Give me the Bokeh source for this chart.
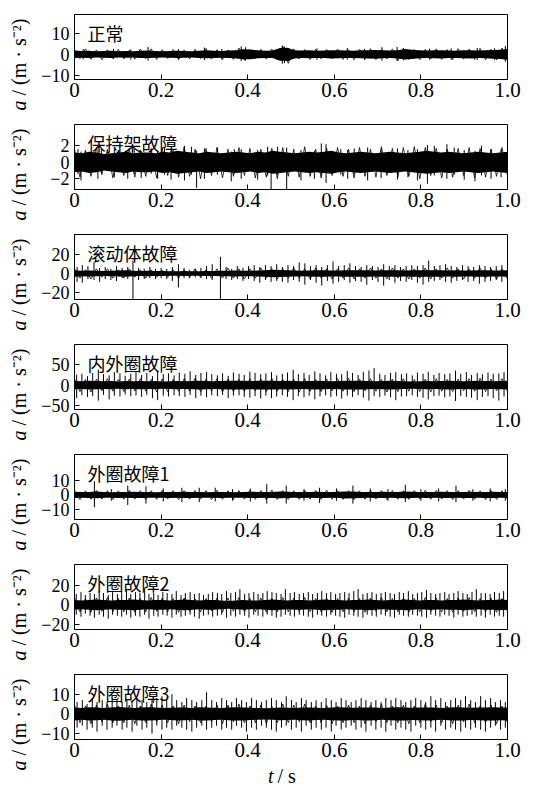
import numpy as np
from bokeh.plotting import figure
from bokeh.layouts import column, row
from bokeh.models import FixedTicker, CustomJSTickFormatter, Label, Range1d
from bokeh.embed import file_html
from bokeh.resources import INLINE

# ---------------- data ----------------
names = ["正常", "保持架故障", "滚动体故障", "内外圈故障", "外圈故障1", "外圈故障2", "外圈故障3"]
y_ranges = [(-12, 19), (-3.3, 4.6), (-28, 42), (-60, 100), (-17, 28), (-25, 41), (-13, 20)]
y_ticks = [[-10, 0, 10], [-2, 0, 2], [-20, 0, 20], [-50, 0, 50], [-10, 0, 10], [-20, 0, 20], [-10, 0, 10]]
x_ticks = [0, 0.2, 0.4, 0.6, 0.8, 1.0]
y_title_var, y_title_rest = "a", "/ (m · s⁻²)"
x_title_var, x_title_rest = "t", "/ s"

# half-width of the dense signal band (m/s^2), 60 samples over 0..1 s
core1 = [1.8,1.6,1.7,1.5,1.6,1.7,1.5,1.6,1.5,1.7, 1.8,1.6,1.5,1.6,1.7,1.6,1.5,1.7,1.9,1.7,
         1.6,1.8,2.0,2.4,2.3,1.9,1.7,1.8,3.0,3.2, 2.0,1.8,1.9,1.7,1.8,2.0,1.9,1.8,1.7,1.9,
         2.0,2.1,1.9,1.8,2.0,2.5,2.2,1.9,1.8,1.9, 2.0,1.8,1.7,1.9,2.0,1.8,1.9,2.1,2.2,2.6]
core2 = [1.2,1.1,1.3,1.2,1.0,1.1,1.2,1.3,1.1,1.2, 1.2,1.1,1.3,1.2,1.4,1.3,1.2,1.1,1.3,1.2,
         1.1,1.2,1.3,1.2,1.1,1.3,1.2,1.4,1.3,1.2, 1.1,1.2,1.3,1.2,1.3,1.4,1.2,1.1,1.2,1.3,
         1.2,1.1,1.2,1.3,1.2,1.1,1.2,1.3,1.4,1.3, 1.2,1.3,1.2,1.1,1.2,1.3,1.2,1.1,1.2,1.3]
core3 = [3.5,3.0,3.2,3.0,2.8,3.0,3.2,3.4,3.0,2.8, 3.0,2.8,2.6,2.5,2.4,2.6,2.5,2.4,2.6,2.8,
         3.0,3.0,3.2,3.0,3.0,3.2,3.4,4.0,3.8,3.4, 3.2,3.0,3.2,3.4,3.6,3.3,3.2,3.4,3.6,3.5,
         3.4,3.3,3.5,3.6,3.4,3.2,3.4,3.6,3.5,3.6, 3.4,3.3,3.4,3.2,3.3,3.5,3.4,3.2,3.3,3.6]
core4 = [10,9.5,10.5,10,9.5,10,9,10,9.5,10, 9.5,10,9,9.5,10,9.5,10,10.5,10,9.5,
         10,10.5,11,10.5,10,10.5,11,10.5,10,10.5, 10,9.5,10,10.5,10,9.5,10,10.5,11,10.5,
         10,9.5,10,10.5,10,9.5,9,9.5,10,9.5, 10,10.5,10,9.5,10,10.5,10,9.5,10,10.5]
core5 = [2.2,2.0,2.1,2.3,2.0,1.9,2.1,2.0,2.2,2.1, 2.0,1.9,2.0,2.1,2.0,2.2,2.1,2.0,1.9,2.0,
         2.1,2.0,1.9,2.0,2.2,2.1,2.0,2.1,2.3,2.2, 2.0,2.1,2.0,2.2,2.1,2.0,2.2,2.4,2.3,2.1,
         2.0,2.1,2.2,2.0,2.1,2.3,2.2,2.0,2.1,2.0, 2.2,2.1,2.0,2.1,2.2,2.0,2.1,2.2,2.0,2.1]
core6 = [5,4.5,5,5.5,5,4.5,5,5,5.5,5, 4.5,5,5,4.5,5,5.5,5,4.5,5,5,
         4.5,4,4.5,5,4.5,4.5,5,5.5,5,4.5, 5,5,4.5,5,5.5,5,5,4.5,5,5,
         5.5,5,4.5,5,5,5.5,5,4.5,5,5, 4.5,5,5,5.5,5,4.5,5,5,5.5,5]
core7 = [3.3,3.0,3.4,3.2,3.0,3.3,3.5,3.2,3.0,3.3, 3.4,3.2,3.0,3.1,3.3,3.2,3.0,3.4,3.3,3.1,
         3.0,3.2,3.4,3.3,3.1,3.0,2.9,3.0,3.2,3.1, 3.0,3.2,3.3,3.1,3.0,3.2,3.4,3.3,3.1,3.2,
         3.3,3.2,3.0,3.2,3.4,3.3,3.1,3.2,3.3,3.2, 3.0,3.2,3.4,3.3,3.1,3.2,3.3,3.4,3.2,3.3]

# coarse oscillation of the signal around the band (80 samples over 0..1 s)
hair1 = [2.3,-2.0,2.6,-2.4,2.1,-2.5,2.2,-2.0,2.4,-2.2, 2.0,-2.3,2.5,-2.1,2.6,-2.4,2.2,-2.0,2.3,-2.5,
         2.1,-2.2,2.4,-2.0,2.8,-2.3,2.2,-2.5,2.1,-2.4, 3.0,-2.8,2.2,-2.1,2.4,-2.3,2.5,-2.6,4.0,-4.3,
         2.6,-2.2,2.3,-2.5,2.4,-2.2,2.3,-2.1,2.5,-2.4, 2.2,-2.6,2.4,-2.3,2.7,-2.5,2.3,-2.2,2.6,-3.0,
         2.9,-2.4,2.3,-2.5,2.4,-2.2,2.6,-2.4,2.3,-2.5, 2.7,-2.3,2.5,-2.4,2.8,-2.6,2.4,-2.7,3.0,-2.8]
hair2 = [1.6,-1.8,1.5,-1.7,1.8,-1.5,1.6,-1.9,1.5,-1.6, 1.7,-1.8,1.5,-1.7,1.6,-1.9,1.8,-1.6,1.5,-1.8,
         1.9,-1.7,1.6,-2.0,1.7,-1.6,1.8,-1.9,1.6,-1.7, 1.8,-1.6,1.7,-1.9,1.6,-1.8,1.7,-2.0,1.8,-1.7,
         1.6,-1.8,1.9,-1.7,1.6,-1.9,1.7,-1.6,1.8,-1.7, 1.6,-1.9,1.8,-1.7,1.6,-1.8,1.9,-1.6,1.7,-1.8,
         1.8,-1.7,1.9,-2.0,1.8,-1.6,1.7,-1.9,1.6,-1.8, 1.7,-1.6,1.8,-1.9,1.7,-1.8,1.6,-1.7,1.8,-1.6]
hair3 = [5,-5,4,-6,5,-4,5,-5,4,-5, 5,-4,4,-5,4,-4,3.5,-4,4,-5, 4,-4,5,-4,4,-5,5,-5,6,-5,
         5,-6,5,-5,6,-5,5,-6,5,-5, 6,-5,5,-6,6,-5,5,-6,5,-5, 6,-6,5,-5,6,-5,5,-6,6,-5,
         5,-6,5,-5,6,-6,5,-5,6,-5, 5,-6,5,-5,6,-5,5,-6,5,-6]
hair4 = [15,-16,14,-17,15,-14,16,-15,14,-16, 15,-14,16,-15,14,-17,15,-16,14,-15, 16,-15,17,-16,15,-14,16,-17,15,-16,
         14,-15,16,-14,15,-16,17,-15,14,-16, 15,-17,16,-15,14,-16,15,-14,16,-15, 17,-16,15,-14,16,-15,14,-17,15,-16,
         16,-15,14,-16,15,-17,16,-15,14,-16, 15,-14,16,-15,17,-16,15,-14,16,-15]
hair5 = [3.0,-3.2,2.8,-3.0,3.1,-2.9,3.0,-3.1,2.8,-3.0, 3.2,-2.9,3.0,-3.1,2.9,-3.0,3.1,-2.8,3.0,-3.2,
         2.9,-3.0,3.1,-2.9,3.0,-3.2,3.3,-3.0,2.9,-3.1, 3.0,-2.9,3.2,-3.0,3.1,-3.3,3.4,-3.2,3.0,-3.1,
         2.9,-3.0,3.1,-2.9,3.0,-3.1,3.2,-3.0,2.9,-3.1, 3.0,-3.2,2.9,-3.0,3.1,-2.9,3.0,-3.2,3.1,-3.0,
         2.9,-3.1,3.0,-2.9,3.2,-3.0,3.1,-2.9,3.0,-3.1, 3.0,-2.9,3.1,-3.0,2.9,-3.2,3.0,-3.1,2.9,-3.0]
hair6 = [7,-7,6.5,-7.5,7,-6.5,7.5,-7,6.5,-7, 7,-7.5,6.5,-7,7.5,-6.5,7,-7,6.5,-7.5,
         7,-6.5,6,-7,6.5,-6,7,-7.5,7,-6.5, 7.5,-7,6.5,-7,7,-7.5,6.5,-7,7.5,-7,
         7,-6.5,7.5,-7,6.5,-7,7,-7.5,6.5,-7, 7,-7,6.5,-7.5,7,-6.5,7.5,-7,6.5,-7,
         7,-7.5,6.5,-7,7.5,-6.5,7,-7,6.5,-7.5, 7,-6.5,7.5,-7,6.5,-7,7,-7.5,6.5,-7]
hair7 = [4.5,-4.5,4,-5,4.5,-4,5,-4.5,4,-4.5, 4.5,-5,4,-4.5,5,-4,4.5,-4.5,4,-5,
         4.5,-4,4,-4.5,4,-4,4.5,-5,4.5,-4, 5,-4.5,4,-4.5,4.5,-5,4,-4.5,5,-4.5,
         4.5,-4,5,-4.5,4,-4.5,4.5,-5,4,-4.5, 4.5,-4.5,4,-5,4.5,-4,5,-4.5,4,-4.5,
         4.5,-5,4,-4.5,5,-4,4.5,-4.5,4,-5, 4.5,-4,5,-4.5,4,-4.5,4.5,-5,4,-4.5]

# impulses: time (s), positive peak, negative peak (magnitude)
t1 = [0.02,0.09,0.13,0.17,0.24,0.30,0.34,0.385,0.395,0.48,0.485,0.495,0.56,0.63,0.67,0.71,0.745,0.76,0.82,0.87,0.93,0.97,0.995]
up1 = [2.5,2.6,2.4,3.5,2.5,3.2,2.6,3.8,3.4,4.2,3.6,3.0,2.8,3.0,2.6,3.4,3.5,3.0,2.7,2.8,3.0,2.9,4.0]
dn1 = [2.4,2.2,2.5,3.0,2.3,2.8,2.4,3.2,3.0,4.5,4.2,3.2,2.6,2.5,2.7,3.0,3.2,2.8,2.5,2.6,2.7,2.6,3.5]

t2 = [0.008,0.015,0.054,0.062,0.092,0.123,0.138,0.154,0.177,0.192, 0.208,0.223,0.254,0.27,0.282,0.3,0.33,0.362,0.369,0.385,
      0.423,0.446,0.454,0.469,0.49,0.523,0.554,0.57,0.581,0.615, 0.631,0.646,0.677,0.708,0.746,0.77,0.792,0.815,0.831,0.86,
      0.877,0.9,0.925,0.94,0.962,0.985]
up2 = [1.6,1.3,1.2,1.6,1.7,1.3,1.6,1.4,1.7,1.3, 1.8,1.4,2.0,1.9,1.4,1.7,1.8,1.3,1.6,1.6,
       1.5,1.9,1.4,1.9,1.8,1.5,1.4,2.3,2.2,1.6, 1.5,1.7,1.8,1.6,1.7,1.5,1.6,2.1,2.0,2.2,
       1.8,1.5,1.4,2.0,1.6,1.6]
dn2 = [1.4,2.2,2.0,1.3,1.8,2.0,1.4,1.9,1.4,2.0, 1.5,2.1,2.2,1.5,3.1,2.0,1.5,2.3,1.4,2.0,
       2.1,1.6,3.3,1.5,3.3,2.2,2.0,1.6,2.5,1.5, 2.0,1.4,2.2,1.9,2.1,1.8,2.2,2.6,1.6,2.0,
       1.5,2.1,2.3,1.6,2.0,1.8]

t3 = [0.006,0.018,0.031,0.045,0.058,0.071,0.084,0.097,0.11,0.123, 0.135,0.148,0.161,0.174,0.187,0.2,0.213,0.226,0.24,0.253,
      0.266,0.279,0.292,0.305,0.318,0.337,0.35,0.363,0.376,0.389, 0.402,0.415,0.428,0.441,0.454,0.467,0.48,0.493,0.506,0.519,
      0.532,0.545,0.558,0.571,0.584,0.597,0.61,0.623,0.636,0.649, 0.662,0.675,0.688,0.701,0.714,0.727,0.74,0.753,0.766,0.779,
      0.792,0.805,0.818,0.831,0.844,0.857,0.87,0.883,0.896,0.909, 0.922,0.935,0.948,0.961,0.974,0.987]
up3 = [7,9,8,12,6,7,5,8,6,7, 14,6,5,7,5,6,5,7,10,6, 4,5,6,8,10,18,7,5,8,6, 8,9,7,9,8,10,7,9,8,12,
       11,8,9,7,9,13,8,9,11,8, 7,9,8,7,10,8,9,7,8,9, 8,9,14,8,9,10,8,7,9,8, 7,9,8,7,8,9]
dn3 = [9,10,6,7,9,6,7,8,5,6, 28,7,6,5,6,5,6,8,15,5, 5,4,5,6,7,28,6,7,6,8, 6,8,10,7,9,8,9,10,7,9,
       12,7,10,13,8,11,9,7,10,8, 9,12,7,9,13,7,10,8,9,7, 10,12,9,8,7,9,10,8,7,9, 8,11,9,8,7,9]

t4 = [0.005,0.017,0.03,0.042,0.055,0.067,0.08,0.092,0.105,0.117, 0.13,0.142,0.155,0.167,0.18,0.192,0.205,0.217,0.23,0.242,
      0.255,0.267,0.28,0.292,0.305,0.317,0.33,0.342,0.355,0.367, 0.38,0.392,0.405,0.417,0.43,0.442,0.455,0.467,0.48,0.492,
      0.505,0.517,0.53,0.542,0.555,0.567,0.58,0.592,0.605,0.617, 0.63,0.642,0.655,0.667,0.68,0.692,0.705,0.717,0.73,0.742,
      0.755,0.767,0.78,0.792,0.805,0.817,0.83,0.842,0.855,0.867, 0.88,0.892,0.905,0.917,0.93,0.942,0.955,0.967,0.98,0.992]
up4 = [26,28,22,30,38,27,24,32,29,23, 28,33,25,30,22,35,27,29,24,31, 28,34,25,30,32,27,24,29,23,31,
       28,25,33,30,27,29,32,24,28,31, 38,27,30,25,34,29,24,32,28,27, 35,30,25,33,36,42,28,25,30,32,
       27,29,24,31,28,33,25,30,27,29, 36,28,32,25,30,27,31,28,29,32]
dn4 = [32,25,29,27,38,24,35,26,28,23, 27,25,29,24,32,37,26,28,25,27, 29,24,32,26,30,25,27,24,32,26,
       25,29,31,27,33,26,32,28,25,29, 37,27,30,26,35,28,25,29,27,33, 26,29,25,31,38,27,29,26,30,37,
       28,27,25,29,31,35,27,26,30,28, 39,27,29,31,37,29,27,32,38,28]

t5 = [0.046,0.085,0.123,0.165,0.205,0.248,0.288,0.325,0.365,0.406, 0.444,0.489,0.53,0.566,0.605,0.643,0.683,0.724,0.764,0.8,
      0.841,0.881,0.92,0.96,0.995]
up5 = [9.5,4,6.5,6,4.5,5,5,5,4,4.5, 7.5,6.5,4,5,4.5,6.5,4.5,4,7,4, 4.5,6.5,4,4.5,4]
dn5 = [8.5,4,7,6,4.5,5,5,4.5,4,4.5, 6,6,4,5.5,4,6,4.5,4,5,4, 4.5,5,4,4.5,4]

t6 = [0.004,0.015,0.025,0.036,0.046,0.057,0.067,0.078,0.088,0.099, 0.109,0.120,0.130,0.141,0.151,0.162,0.172,0.183,0.193,0.204,
      0.214,0.225,0.235,0.246,0.256,0.267,0.277,0.288,0.298,0.309, 0.319,0.330,0.340,0.351,0.361,0.372,0.382,0.393,0.403,0.414,
      0.424,0.435,0.445,0.456,0.466,0.477,0.487,0.498,0.508,0.519, 0.529,0.540,0.550,0.561,0.571,0.582,0.592,0.603,0.613,0.624,
      0.634,0.645,0.655,0.666,0.676,0.687,0.697,0.708,0.718,0.729, 0.739,0.750,0.760,0.771,0.781,0.792,0.802,0.813,0.823,0.834,
      0.844,0.855,0.865,0.876,0.886,0.897,0.907,0.918,0.928,0.939, 0.949,0.960,0.970,0.981,0.991]
up6 = [11,13,10,12,11,14,12,10,13,11, 12,15,11,13,12,17,11,12,10,13, 12,11,14,10,12,13,11,12,10,11,
       13,12,11,14,12,13,16,11,12,13, 11,12,14,13,12,11,16,12,13,11, 12,13,11,12,14,12,13,11,12,13,
       12,14,16,11,12,13,11,12,13,12, 11,13,12,14,11,12,13,15,12,11, 12,13,11,12,14,12,11,13,16,12,
       12,11,13,12,14]
dn6 = [10,12,9,11,13,10,12,14,10,11, 12,10,13,11,12,10,14,11,12,10, 11,13,10,12,11,10,12,14,11,10,
       12,11,10,13,11,12,10,11,13,10, 11,12,10,11,13,12,10,11,12,10, 11,12,13,10,11,12,10,11,12,13,
       10,11,12,13,10,11,12,10,11,12, 13,10,11,12,10,11,12,13,10,11, 12,10,11,13,10,12,11,10,12,11,
       13,10,12,11,12]

t7 = [0.006,0.018,0.029,0.041,0.052,0.064,0.075,0.087,0.098,0.110, 0.121,0.133,0.144,0.156,0.167,0.179,0.190,0.202,0.213,0.225,
      0.236,0.248,0.259,0.271,0.282,0.294,0.305,0.317,0.328,0.340, 0.351,0.363,0.374,0.386,0.397,0.409,0.420,0.432,0.443,0.455,
      0.466,0.478,0.489,0.501,0.512,0.524,0.535,0.547,0.558,0.570, 0.581,0.593,0.604,0.616,0.627,0.639,0.650,0.662,0.673,0.685,
      0.696,0.708,0.719,0.731,0.742,0.754,0.765,0.777,0.788,0.800, 0.811,0.823,0.834,0.846,0.857,0.869,0.880,0.892,0.903,0.915,
      0.926,0.938,0.949,0.961,0.972,0.984,0.995]
up7 = [6,7,5,8,6,7,6,8,7,6, 7,6,8,7,6,7,8,9,7,10, 7,6,8,7,6,7,11,7,6,8, 7,6,8,7,6,8,7,6,7,8,
       7,6,9,7,6,8,7,6,7,6, 8,7,6,8,7,6,7,8,7,6, 7,6,8,7,8,7,6,7,8,7, 6,9,7,8,6,7,8,7,9,7,
       6,9,7,8,6,7,6]
dn7 = [7,6,8,7,9,6,8,7,6,8, 7,9,6,8,7,10,6,8,7,8, 6,7,8,9,7,6,8,7,6,8, 7,8,6,7,9,7,8,6,7,8,
       9,7,6,8,7,9,6,8,7,8, 7,9,6,8,7,6,8,7,9,6, 8,7,9,6,8,7,8,9,6,7, 8,7,9,6,8,7,8,9,7,8,
       7,8,9,7,6,8,7]

cores = [core1, core2, core3, core4, core5, core6, core7]
hairs = [hair1, hair2, hair3, hair4, hair5, hair6, hair7]
spike_t = [t1, t2, t3, t4, t5, t6, t7]
spike_up = [up1, up2, up3, up4, up5, up6, up7]
spike_dn = [dn1, dn2, dn3, dn4, dn5, dn6, dn7]

# ---------------- layout constants ----------------
SERIF = "Liberation Serif"
CJK = "Noto Sans CJK SC"
TITLE_W = 30          # strip holding the rotated y titles
PANEL_W = 510         # width of each panel figure
PANEL_H = 110
LAST_H = 104          # last panel is a little shorter, the x title strip sits under it
FRAME_TOP = 14
FRAME_H = 65
BOTTOM_H = 23         # strip holding the x title
n = len(names)
TOTAL_H = PANEL_H * (n - 1) + LAST_H + BOTTOM_H

x_fmt = CustomJSTickFormatter(code="return tick == 0 ? '0' : tick.toFixed(1);")
y_fmt = CustomJSTickFormatter(code="return tick < 0 ? '\u2212' + (-tick) : '' + tick;")

figs = []
for i in range(n):
    h = LAST_H if i == n - 1 else PANEL_H
    p = figure(width=PANEL_W, height=h, output_backend="svg", toolbar_location=None,
               title_location=None,
               x_range=Range1d(0, 1), y_range=Range1d(*y_ranges[i]),
               min_border_left=44, min_border_right=33, min_border_top=FRAME_TOP,
               min_border_bottom=(h - FRAME_TOP - FRAME_H))
    p.grid.visible = False
    p.outline_line_color = "black"
    p.outline_line_alpha = 1.0
    p.outline_line_width = 1

    core = np.array(cores[i], dtype=float)
    tc = np.linspace(0, 1, len(core))
    p.varea(x=tc, y1=-core, y2=core, fill_color="black")

    hair = np.array(hairs[i], dtype=float)
    th = np.linspace(0, 1, len(hair))
    p.line(x=th, y=hair, line_color="black", line_width=0.8)

    ts = np.array(spike_t[i], dtype=float)
    p.segment(x0=ts, x1=ts, y0=-np.array(spike_dn[i], dtype=float),
              y1=np.array(spike_up[i], dtype=float), line_color="black", line_width=1)

    p.add_layout(Label(x=0, y=y_ranges[i][1], x_offset=13, y_offset=-5, text=names[i],
                       text_font=CJK, text_font_size="18px", text_baseline="top",
                       text_color="black"))

    xa = p.xaxis[0]
    xa.ticker = FixedTicker(ticks=x_ticks, minor_ticks=[])
    xa.formatter = x_fmt
    ya = p.yaxis[0]
    ya.ticker = FixedTicker(ticks=y_ticks[i], minor_ticks=[])
    ya.formatter = y_fmt
    for ax in (xa, ya):
        ax.major_tick_in = 5
        ax.major_tick_out = 0
        ax.minor_tick_in = 0
        ax.minor_tick_out = 0
        ax.axis_line_color = "black"
        ax.major_tick_line_color = "black"
        ax.major_label_text_color = "black"
        ax.major_label_text_font = SERIF
    xa.major_label_text_font_size = "21px"
    xa.major_label_standoff = 3
    ya.major_label_text_font_size = "18px"
    ya.major_label_standoff = 5
    figs.append(p)

def strip(w, h):
    s = figure(width=w, height=h, output_backend="svg", toolbar_location=None,
               title_location=None, x_range=Range1d(0, w), y_range=Range1d(0, h),
               x_axis_type=None, y_axis_type=None, min_border=0,
               min_border_left=0, min_border_right=0, min_border_top=0, min_border_bottom=0)
    s.grid.visible = False
    s.outline_line_color = None
    return s

# strip with the rotated y-axis titles (one per panel)
tp = strip(TITLE_W, TOTAL_H)
for i in range(n):
    y_base = TOTAL_H - (PANEL_H * (i + 1))   # bottom of the title, in strip coordinates
    tp.add_layout(Label(x=18, y=y_base, angle=90, angle_units="deg", text=y_title_var,
                        text_font=SERIF, text_font_style="italic", text_font_size="20px",
                        text_align="left", text_baseline="middle", text_color="black"))
    tp.add_layout(Label(x=18, y=y_base + 15, angle=90, angle_units="deg", text=y_title_rest,
                        text_font=SERIF, text_font_size="20px",
                        text_align="left", text_baseline="middle", text_color="black"))

# strip with the x-axis title under the last panel
bp = strip(PANEL_W, BOTTOM_H)
bp.add_layout(Label(x=228, y=BOTTOM_H / 2, text=x_title_var, text_font=SERIF, text_font_style="italic",
                    text_font_size="20px", text_align="left", text_baseline="middle",
                    text_color="black"))
bp.add_layout(Label(x=239, y=BOTTOM_H / 2, text=x_title_rest, text_font=SERIF,
                    text_font_size="20px", text_align="left", text_baseline="middle",
                    text_color="black"))

layout = row(tp, column(*figs, bp, spacing=0), spacing=0)
open("out.html", "w").write(file_html(layout, INLINE))
